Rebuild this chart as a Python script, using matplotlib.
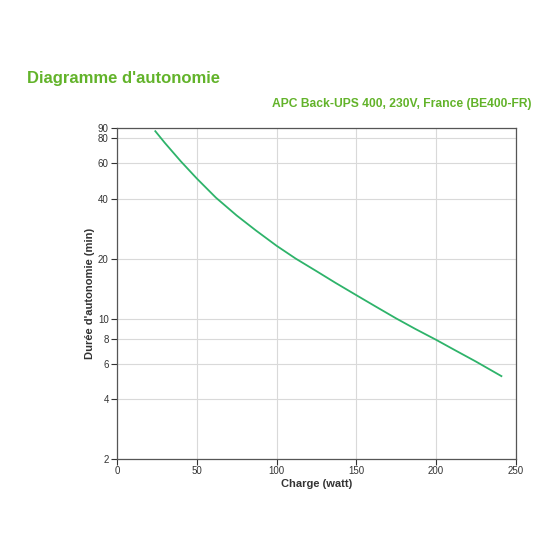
"""
Runtime chart for APC Back-UPS 400 (BE400-FR).
"""
import matplotlib
matplotlib.use('Agg')
import matplotlib.pyplot as plt
from matplotlib.ticker import FixedLocator, NullLocator, FixedFormatter

plt.rcParams['font.family'] = ['Liberation Sans', 'DejaVu Sans']

# Values
load_w = [24, 30, 40, 50, 62, 75, 87, 100, 112, 125, 137, 150, 162, 175, 187, 200, 212, 225, 241]
runtime_min = [87, 76, 61.5, 50.5, 40.5, 33, 27.8, 23.3, 20.1, 17.4, 15.2, 13.2, 11.6, 10.1,
               8.95, 7.9, 7.0, 6.15, 5.2]

y_ticks = [2, 4, 6, 8, 10, 20, 40, 60, 80, 90]
x_ticks = [0, 50, 100, 150, 200, 250]

green_title = '#62b32a'
line_color = '#2eb36a'
text_color = '#333333'

fig = plt.figure(figsize=(5.6, 5.6), dpi=100)
ax = fig.add_axes([0.209, 0.180, 0.712, 0.591])

ax.plot(load_w, runtime_min, color=line_color, linewidth=1.3)

ax.set_yscale('log')
ax.set_xlim(0, 250)
ax.set_ylim(2, 90)
ax.yaxis.set_major_locator(FixedLocator(y_ticks))
ax.yaxis.set_major_formatter(FixedFormatter([str(v) for v in y_ticks]))
ax.yaxis.set_minor_locator(NullLocator())
ax.set_xticks(x_ticks)

ax.grid(True, color='#d9d9d9', linewidth=0.8)
ax.set_axisbelow(True)
ax.tick_params(labelsize=7, colors=text_color, length=4, width=0.8, direction='out', pad=2)
ax.tick_params(axis='x', pad=1)
for s in ax.spines.values():
    s.set_color('#555555')
    s.set_linewidth(0.9)

ax.set_xlabel('Charge (watt)', fontsize=8, fontweight='bold', color=text_color)
ax.set_ylabel("Durée d'autonomie (min)", fontsize=8, fontweight='bold', color=text_color)
ax.xaxis.set_label_coords(0.5, -0.06)
ax.yaxis.set_label_coords(-0.056, 0.5)

fig.text(27 / 560, 1 - 78 / 560, "Diagramme d'autonomie", fontsize=12, fontweight='bold',
         color=green_title, ha='left', va='center')
fig.text(532 / 560, 1 - 104 / 560, 'APC Back-UPS 400, 230V, France (BE400-FR)', fontsize=8.75,
         fontweight='bold', color=green_title, ha='right', va='center')

plt.savefig('out.png', dpi=100, facecolor='white')
plt.close()
